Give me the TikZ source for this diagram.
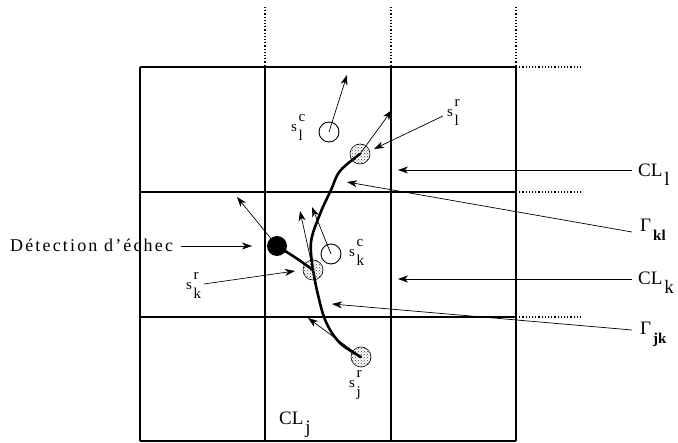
\documentclass[tikz,border=0pt]{standalone}
\usepackage{fontspec}
\setmainfont{Liberation Serif}
\usetikzlibrary{arrows.meta,patterns,positioning}
% stacked indices as in the figure
\newcommand{\stk}[2]{\kern1.5pt\rlap{\raisebox{10pt}{#1}}\raisebox{-9pt}{#2}}
\newcommand{\sub}[1]{\kern2pt\raisebox{-9pt}{#1}}

\begin{document}
\begin{tikzpicture}[x=1pt,y=-1pt,
      grid/.style={line width=1.2pt},
      ext/.style={line width=1.2pt, dotted},
      link/.style={-{Stealth[length=10pt,width=7pt,inset=3pt]}, line width=0.7pt},
      trail/.style={line width=2.6pt, line cap=round, line join=round},
      sens/.style={circle, draw, inner sep=0pt, minimum size=20pt,
        pattern=crosshatch dots, pattern color=black!75, line width=0.6pt},
      cand/.style={circle, draw, inner sep=0pt, minimum size=20pt, line width=0.9pt},
      fail/.style={circle, fill, inner sep=0pt, minimum size=20pt},
      lbl/.style={font=\fontsize{15}{18}\selectfont\addfontfeatures{LetterSpace=6},
        inner sep=0pt, anchor=base west},
      cl/.style={font=\fontsize{19}{22}\selectfont, inner sep=0pt, anchor=base west}
    ]
      \useasboundingbox (0,0) rectangle (678,443);
      % cells
      \foreach \x in {140,265,391,516} \draw[grid] (\x,67) -- (\x,441);
      \foreach \y in {67,192,317,441} \draw[grid] (140,\y) -- (516,\y);
      \foreach \x in {265,391,516} \draw[ext] (\x,7) -- (\x,67);
      \foreach \y in {67,192,317} \draw[ext] (516,\y) -- (582,\y);
      % sensor positions
      \coordinate (pl) at (360,154);
      \coordinate (pk) at (313,270);
      \coordinate (pj) at (361,357);
      \coordinate (pf) at (277,246);
      % trajectory
      \draw[trail] plot[smooth, tension=0.6] coordinates
        {(pj) (340,343) (326,322) (318,295) (pk)};
      \draw[trail] plot[smooth, tension=0.6] coordinates
        {(pk) (311,242) (320,214) (331,190) (340,171) (pl)};
      \draw[trail] plot[smooth, tension=0.6] coordinates
        {(pf) (296,258) (pk)};
      % nodes
      \node[sens] (slr) at (pl) {};
      \node[cand] (slc) at (329,132) {};
      \node[fail] (fail) at (pf) {};
      \node[sens] (skr) at (pk) {};
      \node[cand] (skc) at (331,254) {};
      \node[sens] (sjr) at (pj) {};
      % velocities
      \coordinate (vslc) at (347,75);
      \coordinate (vslr) at (392,110);
      \coordinate (vfail) at (237,197);
      \coordinate (vskr) at (300,211);
      \coordinate (vskc) at (312,207);
      \coordinate (vsjr) at (308,318);
      \draw[link] (slc.center) -- (vslc);
      \draw[link] (slr.center) -- (vslr);
      \draw[link] (fail.center) -- (vfail);
      \draw[link] (skr.center) -- (vskr);
      \draw[link] (skc.center) -- (vskc);
      \draw[link] (sjr.center) -- (vsjr);
      % labels
      \node[lbl] (slcl) at (291,132) {s\stk{c}{l}};
      \node[lbl] (slrl) at (447,117) {s\stk{r}{l}};
      \node[lbl] (skcl) at (349,257) {s\stk{c}{k}};
      \node[lbl] (skrl) at (186,290) {s\stk{r}{k}};
      \node[lbl] (sjrl) at (349,388) {s\stk{r}{j}};
      \node[cl] (clj) at (279,425) {CL\sub{j}};
      \node[cl] (cll) at (638,177) {CL\sub{l}};
      \node[cl] (gkl) at (640,232) {Γ\sub{\fontsize{15}{18}\selectfont\bfseries kl}};
      \node[cl] (clk) at (638,285) {CL\sub{k}};
      \node[cl] (gjk) at (640,335) {Γ\sub{\fontsize{15}{18}\selectfont\bfseries jk}};
      \node[lbl, font=\fontsize{18}{21}\selectfont\addfontfeatures{LetterSpace=12}]
        (det) at (10,252) {Détection d'échec};
      % leaders
      \coordinate (tslr) at (374,149);
      \coordinate (tskr) at (295,271);
      \coordinate (tcll) at (398,170);
      \coordinate (tgkl) at (347,182);
      \coordinate (tclk) at (398,279);
      \coordinate (tgjk) at (332,304);
      \coordinate (tdet) at (252,246);
      \draw[link] (slrl.west) ++(-4,3) -- (tslr);
      \draw[link] (skrl.east) ++(3,-2) -- (tskr);
      \draw[link] (cll.west |- tcll) ++(-6,0) -- (tcll);
      \draw[link] (gkl.west |- 0,232) ++(-8,0) -- (tgkl);
      \draw[link] (clk.west |- tclk) ++(-6,0) -- (tclk);
      \draw[link] (gjk.west |- 0,330) ++(-8,0) -- (tgjk);
      \draw[link] (det.east |- tdet) ++(8,0) -- (tdet);
    \end{tikzpicture}
\end{document}
